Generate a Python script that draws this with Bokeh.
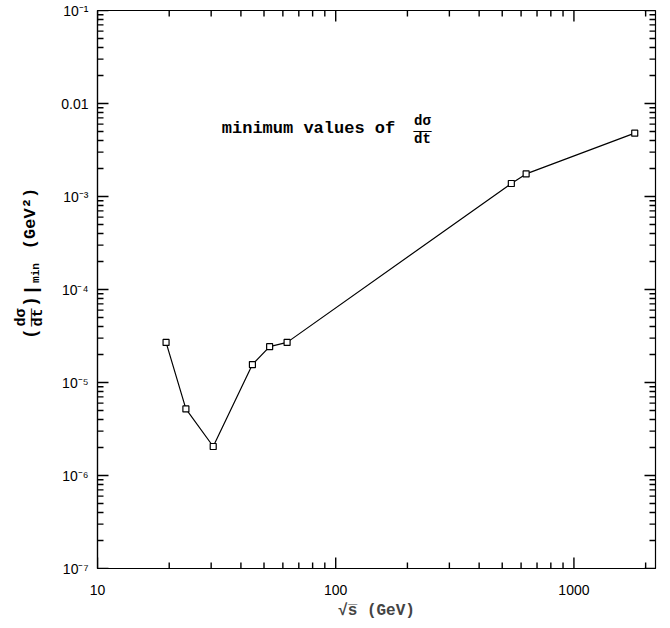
import math
from bokeh.plotting import figure
from bokeh.layouts import row
from bokeh.models import Label, CustomJSTickFormatter, FixedTicker
from bokeh.core.properties import value
from bokeh.embed import file_html
from bokeh.resources import INLINE

# data
sqrt_s = [19.4, 23.5, 30.6, 44.7, 52.8, 62.5, 546, 630, 1800]
dsdt_min = [2.7e-5, 5.2e-6, 2.05e-6, 1.56e-5, 2.43e-5, 2.7e-5, 1.38e-3, 1.75e-3, 4.8e-3]

x_major = [10, 100, 1000]
x_minor = [m * d for d in (10, 100, 1000) for m in range(2, 10) if m * d <= 2200]
y_major = [10.0 ** e for e in range(-7, 0)]
y_minor = [m * 10.0 ** e for e in range(-7, -1) for m in range(2, 10)]

X0, X1 = 10, 2200
Y0, Y1 = 1e-7, 1e-1

LW = 50            # width of the label column on the left
W, H = 615, 625    # main figure
FL, FR, FT, FB = 97, 655, 10, 568   # frame edges in page pixels

p = figure(width=W, height=H, x_axis_type="log", y_axis_type="log",
           x_range=(X0, X1), y_range=(Y0, Y1),
           output_backend="svg", toolbar_location=None,
           min_border_left=FL - LW, min_border_top=FT, min_border_right=W + LW - FR,
           min_border_bottom=H - FB)
p.grid.visible = False
p.outline_line_color = "black"
p.outline_line_width = 1.2
p.background_fill_color = "white"

sup = CustomJSTickFormatter(code="""
const e = Math.round(Math.log10(tick));
if (e == -2) return "0.01";
const s = {"-":"\u207b","0":"\u2070","1":"\u00b9","2":"\u00b2","3":"\u00b3","4":"\u2074","5":"\u2075","6":"\u2076","7":"\u2077","8":"\u2078","9":"\u2079"};
return "10" + String(e).split("").map(c => s[c]).join("");
""")
xfmt = CustomJSTickFormatter(code="return String(Math.round(tick));")

for ax in p.xaxis:
    ax.ticker = FixedTicker(ticks=x_major, minor_ticks=x_minor)
    ax.formatter = xfmt
    ax.major_label_standoff = 16
    ax.axis_label = "\u221as\u0305 (GeV)"
    ax.axis_label_text_font = "Liberation Mono"
    ax.axis_label_text_font_style = "bold"
    ax.axis_label_text_font_size = "16px"
    ax.axis_label_standoff = 4
for ax in p.yaxis:
    ax.ticker = FixedTicker(ticks=y_major, minor_ticks=y_minor)
    ax.formatter = sup
    ax.major_label_standoff = 9

for ax in list(p.xaxis) + list(p.yaxis):
    ax.major_tick_in = 0
    ax.major_tick_out = 0
    ax.minor_tick_in = 0
    ax.minor_tick_out = 0
    ax.major_label_text_font = "Liberation Sans"
    ax.major_label_text_font_size = "14px"
    ax.major_label_text_color = "black"
    ax.axis_line_color = "black"
    ax.axis_line_width = 1.2

# page pixel -> data helpers (used for tick placement and annotation placement)
def dx(px):
    return 10 ** (math.log10(X0) + (px - FL) / (FR - FL) * (math.log10(X1) - math.log10(X0)))
def dy(py):
    return 10 ** (math.log10(Y1) - (py - FT) / (FB - FT) * (math.log10(Y1) - math.log10(Y0)))

# inward tick marks on all four sides: thin filled bars just inside the frame edge
TW = 1.4
for vals, ln in ((x_major, 11), (x_minor, 6)):
    n = len(vals)
    for yy in (dy(FB - ln / 2), dy(FT + ln / 2)):
        p.rect(vals, [yy] * n, width=TW, height=ln, width_units="screen",
               height_units="screen", fill_color="black", line_color=None)
for vals, ln in ((y_major, 11), (y_minor, 6)):
    n = len(vals)
    for xx in (dx(FL + ln / 2), dx(FR - ln / 2)):
        p.rect([xx] * n, vals, width=ln, height=TW, width_units="screen",
               height_units="screen", fill_color="black", line_color=None)

p.line(sqrt_s, dsdt_min, line_color="black", line_width=1.2)
p.scatter(sqrt_s, dsdt_min, marker="square", size=6, fill_color="white",
          line_color="black", line_width=1.2)

# annotations inside the frame (screen units: from the frame's bottom-left corner)
def lab(text, px, py, size=16, font="Liberation Mono", style="bold"):
    p.add_layout(Label(x=px - FL, y=FB - py, x_units="screen", y_units="screen",
                       text=text, text_font=font,
                       text_font_style=style, text_font_size=f"{size}px",
                       text_align="center", text_baseline="middle", text_color="black"))

lab("minimum values of", 308, 128, 17)
lab("d\u03c3", 422, 120, 14)
lab("\u2014", 422, 129, 18, font="Liberation Serif", style="normal")
lab("dt", 422, 138, 14)

# left column holding the rotated y-axis title
lf = figure(width=LW, height=H, x_range=(0, LW), y_range=(0, H),
            output_backend="svg", toolbar_location=None, min_border=0)
lf.axis.visible = False
lf.grid.visible = False
lf.outline_line_color = None

yl_text = ["(", "d\u03c3", "dt", ")", "|", "min", "(GeV\u00b2)"]
yl_px = [30, 21, 38, 30, 30, 35, 30]
yl_py = [362, 344, 344, 326, 313, 294, 233]
yl_size = ["18px", "15px", "15px", "18px", "18px", "11px", "17px"]
yl_font = ["Liberation Mono", "Liberation Mono", "Liberation Mono", "Liberation Mono",
           "Liberation Sans", "Liberation Mono", "Liberation Mono"]
lf.text(yl_px, [H - y for y in yl_py], text=yl_text,
        angle=math.pi / 2, text_font=yl_font, text_font_size=yl_size,
        text_font_style="bold", text_align="center", text_baseline="middle",
        text_color="black")
lf.text([29], [H - 344], text=["\u2014"], angle=math.pi / 2,
        text_font=value("Liberation Serif"), text_font_size="18px",
        text_align="center", text_baseline="middle", text_color="black")

layout = row(lf, p, spacing=0)
open("out.html", "w").write(file_html(layout, INLINE))
